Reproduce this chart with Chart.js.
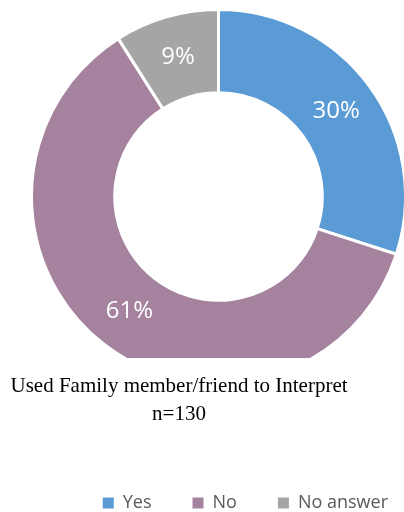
<!DOCTYPE html>
<html>
<head>
<meta charset="utf-8">
<script src="https://cdn.jsdelivr.net/npm/chart.js@4.4.0/dist/chart.umd.min.js"></script>
<style>
  html, body { margin: 0; padding: 0; background: #fff; }
</style>
</head>
<body>
<canvas id="donut" width="404" height="512"></canvas>
<script>
// data
const categories = ['Yes', 'No', 'No answer'];
const percents = [30, 61, 9];
const sliceColors = ['#5B9BD5', '#A5839F', '#A5A5A5'];
const titleLines = ['Used Family member/friend to Interpret', 'n=130'];

// the ring sits partly under the title, so its box is set by hand
// and the bottom of the ring is cut off at cutLine
const ringArea = { left: 30, top: 8, right: 407, bottom: 385 };
const cutLine = 358;

const ringAreaPlugin = {
    id: 'ringArea',
    afterLayout(chart) {
        chart.chartArea = {
            left: ringArea.left,
            top: ringArea.top,
            right: ringArea.right,
            bottom: ringArea.bottom,
            width: ringArea.right - ringArea.left,
            height: ringArea.bottom - ringArea.top
        };
    }
};

// white percent labels in the middle of each slice
const sliceLabels = {
    id: 'sliceLabels',
    afterDatasetsDraw(chart) {
        const ctx = chart.ctx;
        const meta = chart.getDatasetMeta(0);
        ctx.save();
        ctx.font = '24px "Open Sans"';
        ctx.fillStyle = '#ffffff';
        ctx.textAlign = 'center';
        ctx.textBaseline = 'middle';
        meta.data.forEach((arc, i) => {
            const p = arc.tooltipPosition();
            ctx.fillText(percents[i] + '%', p.x, p.y);
        });
        ctx.restore();
    }
};

const chart = () => {
    const data = {
        labels: categories,
        datasets: [{
            data: percents,
            backgroundColor: sliceColors,
            borderColor: '#ffffff',
            borderWidth: 3,
            clip: { left: 5, top: 5, right: 5, bottom: cutLine - ringArea.bottom }
        }]
    };
    const config = {
        type: 'doughnut',
        data: data,
        plugins: [ringAreaPlugin, sliceLabels],
        options: {
            responsive: false,
            animation: false,
            events: [],
            cutout: '55.5%',
            layout: {
                padding: { left: -71, right: -25, top: 0, bottom: -10 }
            },
            plugins: {
                tooltip: { enabled: false },
                title: {
                    display: true,
                    position: 'bottom',
                    text: titleLines,
                    color: '#000000',
                    font: { family: '"Liberation Serif", "Times New Roman", serif', size: 21, weight: 'normal', lineHeight: 1.35 },
                    padding: { top: 0, bottom: 24 }
                },
                legend: {
                    position: 'bottom',
                    align: 'end',
                    weight: 3000,
                    labels: {
                        color: '#595959',
                        font: { family: '"Open Sans"', size: 18 },
                        boxWidth: 11,
                        boxHeight: 11,
                        padding: 41,
                        generateLabels(c) {
                            const items = Chart.overrides.doughnut.plugins.legend.labels.generateLabels(c);
                            items.forEach(it => { it.lineWidth = 0; });
                            return items;
                        }
                    }
                }
            }
        }
    };
    const ctx = document.getElementById('donut');
    new Chart(ctx, config);
};

Promise.all([
    document.fonts.load('24px "Open Sans"'),
    document.fonts.load('21px "Liberation Serif"')
]).then(chart, chart);
</script>
</body>
</html>
